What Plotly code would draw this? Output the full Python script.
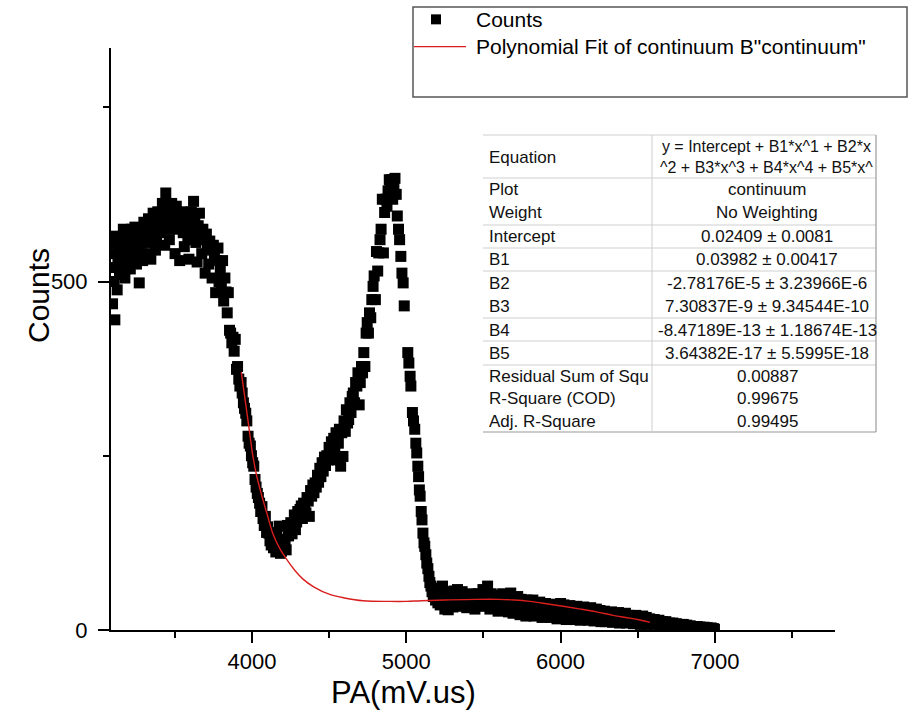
import plotly.graph_objects as go

# ---- measured pulse-area spectrum (PA in mV.us, counts) ----
pa = [
    3092, 3097, 3102, 3107, 3112, 3117, 3122, 3127, 3132, 3137, 3142, 3147, 3152, 3157, 3162, 3167,
    3172, 3177, 3182, 3187, 3192, 3197, 3202, 3207, 3212, 3217, 3222, 3227, 3232, 3237, 3242, 3247,
    3252, 3257, 3262, 3270, 3277, 3285, 3292, 3300, 3307, 3315, 3322, 3330, 3337, 3345, 3352, 3360,
    3367, 3375, 3382, 3390, 3397, 3405, 3412, 3420, 3427, 3435, 3442, 3450, 3457, 3465, 3472, 3480,
    3487, 3495, 3502, 3510, 3517, 3525, 3532, 3540, 3547, 3555, 3562, 3570, 3577, 3585, 3592, 3600,
    3607, 3615, 3622, 3630, 3637, 3645, 3652, 3660, 3667, 3675, 3682, 3690, 3697, 3705, 3712, 3720,
    3727, 3735, 3742, 3750, 3757, 3765, 3772, 3780, 3787, 3795, 3802, 3810, 3817, 3825, 3832, 3840,
    3847, 3855, 3862, 3870, 3877, 3885, 3892, 3900, 3907, 3915, 3922, 3930, 3937, 3945, 3952, 3960,
    3967, 3975, 3982, 3990, 3997, 4005, 4012, 4020, 4027, 4035, 4042, 4050, 4057, 4065, 4072, 4080,
    4087, 4095, 4102, 4110, 4117, 4125, 4132, 4140, 4147, 4155, 4162, 4170, 4177, 4185, 4192, 4200,
    4207, 4215, 4222, 4230, 4237, 4245, 4252, 4260, 4267, 4275, 4282, 4290, 4297, 4305, 4312, 4320,
    4327, 4335, 4342, 4350, 4357, 4365, 4372, 4380, 4387, 4395, 4402, 4410, 4417, 4425, 4432, 4440,
    4447, 4455, 4462, 4470, 4477, 4485, 4492, 4500, 4507, 4515, 4522, 4530, 4537, 4545, 4552, 4560,
    4567, 4575, 4582, 4590, 4597, 4605, 4612, 4620, 4627, 4635, 4642, 4650, 4657, 4665, 4672, 4680,
    4687, 4695, 4702, 4710, 4717, 4725, 4732, 4740, 4747, 4755, 4762, 4770, 4777, 4785, 4792, 4800,
    4807, 4815, 4822, 4830, 4837, 4845, 4852, 4860, 4867, 4875, 4882, 4890, 4897, 4905, 4912, 4920,
    4927, 4935, 4942, 4950, 4957, 4965, 4972, 4980, 4987, 5010, 5017, 5025, 5030, 5040, 5047, 5055,
    5062, 5068, 5075, 5080, 5085, 5090, 5097, 5102, 5108, 5115, 5120, 5127, 5133, 5140, 5147, 5153,
    5160, 5167, 5175, 5182, 5190, 5197, 5205, 5212, 5220, 5227, 5235, 5242, 5250, 5257, 5265, 5272,
    5280, 5287, 5295, 5302, 5310, 5317, 5325, 5332, 5340, 5347, 5355, 5362, 5370, 5377, 5385, 5392,
    5400, 5407, 5415, 5422, 5430, 5437, 5445, 5452, 5460, 5467, 5475, 5482, 5490, 5497, 5505, 5512,
    5520, 5527, 5535, 5542, 5550, 5557, 5565, 5572, 5580, 5587, 5595, 5602, 5610, 5617, 5625, 5632,
    5640, 5647, 5655, 5662, 5670, 5677, 5685, 5692, 5700, 5707, 5715, 5722, 5730, 5737, 5745, 5752,
    5760, 5767, 5775, 5782, 5790, 5797, 5805, 5812, 5820, 5827, 5835, 5842, 5850, 5857, 5865, 5872,
    5880, 5887, 5895, 5902, 5910, 5917, 5925, 5932, 5940, 5947, 5955, 5962, 5970, 5977, 5985, 5992,
    6000, 6007, 6015, 6022, 6030, 6037, 6045, 6052, 6060, 6067, 6075, 6082, 6090, 6097, 6105, 6112,
    6120, 6127, 6135, 6142, 6150, 6157, 6165, 6172, 6180, 6187, 6195, 6202, 6210, 6217, 6225, 6232,
    6240, 6247, 6255, 6262, 6270, 6277, 6285, 6292, 6300, 6307, 6315, 6322, 6330, 6337, 6345, 6352,
    6360, 6367, 6375, 6382, 6390, 6397, 6405, 6412, 6420, 6427, 6435, 6442, 6450, 6457, 6465, 6472,
    6480, 6487, 6495, 6502, 6510, 6517, 6525, 6532, 6540, 6547, 6555, 6562, 6570, 6577, 6585, 6592,
    6600, 6607, 6615, 6622, 6630, 6637, 6645, 6652, 6660, 6667, 6675, 6682, 6690, 6697, 6705, 6712,
    6720, 6727, 6735, 6742, 6750, 6757, 6765, 6772, 6780, 6787, 6795, 6802, 6810, 6817, 6825, 6832,
    6840, 6847, 6855, 6862, 6870, 6877, 6885, 6892, 6900, 6907, 6915, 6922, 6930, 6937, 6945, 6952,
    6960, 6967, 6975, 6982, 6990, 6997,
]
counts = [
    520, 468, 555, 500, 445, 540, 565, 488, 530, 548, 510, 556, 562, 520, 540, 575,
    536, 505, 550, 560, 528, 545, 570, 540, 518, 556, 575, 548, 532, 565, 578, 552,
    525, 560, 540, 498, 572, 555, 530, 585, 560, 540, 575, 590, 556, 532, 565, 598,
    580, 545, 560, 600, 585, 570, 590, 612, 575, 552, 627, 600, 583, 560, 598, 612,
    590, 575, 540, 608, 595, 580, 530, 590, 600, 570, 550, 593, 585, 560, 532, 582,
    600, 570, 615, 590, 556, 528, 580, 598, 565, 540, 575, 560, 512, 568, 550, 525,
    558, 545, 505, 552, 540, 484, 530, 548, 500, 515, 492, 530, 472, 505, 485, 455,
    484, 430, 426, 412, 420, 400, 417, 374, 378, 360, 350, 355, 340, 326, 318, 311,
    300, 278, 268, 264, 250, 240, 235, 216, 205, 196, 190, 182, 170, 177, 160, 150,
    163, 140, 148, 139, 128, 122, 140, 118, 125, 112, 135, 115, 149, 110, 113, 130,
    118, 125, 115, 150, 135, 145, 154, 138, 150, 165, 144, 155, 170, 160, 173, 178,
    160, 182, 176, 168, 190, 185, 163, 200, 192, 208, 197, 211, 205, 222, 212, 232,
    220, 240, 228, 248, 236, 250, 244, 262, 249, 270, 258, 275, 262, 283, 244, 268,
    288, 235, 283, 249, 300, 285, 316, 297, 302, 326, 312, 335, 340, 326, 355, 350,
    369, 323, 355, 378, 369, 398, 378, 426, 441, 426, 455, 448, 474, 493, 508, 474,
    543, 515, 541, 560, 575, 618, 541, 599, 618, 608, 630, 646, 632, 646, 618, 640,
    648, 625, 594, 575, 560, 536, 512, 498, 465, 398, 383, 364, 350, 312, 300, 288,
    268, 254, 235, 220, 201, 192, 170, 158, 139, 125, 120, 108, 96, 88, 77, 68,
    63, 55, 48, 58, 43, 52, 39, 60, 36, 55, 63, 40, 30, 55, 45, 29,
    53, 38, 50, 33, 56, 42, 36, 58, 34, 48, 40, 55, 38, 45, 48, 32,
    50, 42, 35, 52, 40, 46, 30, 48, 38, 52, 35, 44, 40, 58, 34, 48,
    40, 63, 44, 30, 52, 38, 47, 32, 50, 40, 27, 45, 48, 36, 52, 30,
    44, 38, 48, 26, 42, 53, 35, 24, 46, 38, 30, 48, 40, 22, 44, 34,
    40, 28, 20, 43, 36, 24, 40, 30, 43, 20, 38, 26, 35, 22, 40, 30,
    18, 36, 28, 38, 20, 33, 25, 37, 18, 30, 36, 22, 28, 16, 34, 24,
    38, 18, 30, 36, 22, 15, 33, 26, 35, 18, 28, 32, 15, 25, 34, 20,
    28, 14, 30, 22, 33, 16, 26, 30, 14, 24, 32, 18, 28, 13, 26, 30,
    16, 22, 28, 12, 24, 18, 27, 12, 22, 25, 14, 20, 26, 11, 18, 24,
    12, 20, 25, 10, 18, 22, 12, 16, 24, 10, 18, 21, 11, 14, 20, 9,
    16, 21, 10, 15, 19, 8, 14, 20, 9, 13, 18, 8, 12, 16, 9, 14,
    11, 15, 8, 13, 10, 14, 7, 11, 12, 7, 10, 12, 6, 9, 10, 6,
    8, 10, 5, 8, 9, 5, 7, 8, 4, 6, 8, 4, 6, 7, 3, 5,
    6, 3, 5, 5, 2, 4, 5, 2, 4, 4, 2, 3, 4, 1, 3, 3,
    1, 2, 3, 1, 2, 1,
]

# ---- fitted continuum curve ----
fit_pa = [3931, 3950, 3970, 3990, 4006, 4030, 4061, 4100, 4136, 4180, 4223, 4280, 4331, 4400,
          4504, 4600, 4720, 4893, 5000, 5100, 5250, 5450, 5600, 5700, 5800, 5900, 6017, 6130,
          6233, 6340, 6449, 6520, 6579]
fit_counts = [370, 340, 308, 275, 250, 222, 195, 165, 138, 117, 102, 85, 73, 62,
              51, 46, 42, 41, 41, 42, 43, 44, 44, 43, 41, 38, 34, 30,
              26, 21, 17, 14, 11]

# ---- fit report ----
report_rows = ["Plot", "Weight", "Intercept", "B1", "B2", "B3", "B4", "B5",
               "Residual Sum of Squ", "R-Square (COD)", "Adj. R-Square"]
report_vals = ["continuum", "No Weighting", "0.02409 \u00b1 0.0081", "0.03982 \u00b1 0.00417",
               "-2.78176E-5 \u00b1 3.23966E-6", "7.30837E-9 \u00b1 9.34544E-10",
               "-8.47189E-13 \u00b1 1.18674E-13", "3.64382E-17 \u00b1 5.5995E-18",
               "0.00887", "0.99675", "0.99495"]
equation_lines = ["y = Intercept + B1*x^1 + B2*x", "^2 + B3*x^3 + B4*x^4 + B5*x^"]
legend_names = ["Counts", 'Polynomial Fit of continuum B"continuum"']

x_range = [3087, 7778]
y_range = [0, 835]

FW, FH = 910, 724
ML, MR, MT, MB = 111, 75, 48, 94
PW, PH = FW - ML - MR, FH - MT - MB
FONT = "Liberation Sans, Arial, sans-serif"
RED = "#d91e1e"


def fx(px):
    return (px - ML) / PW


def fy(py):
    return (FH - MB - py) / PH


fig = go.Figure()
fig.add_trace(go.Scatter(
    x=pa, y=counts, mode="markers", name=legend_names[0],
    marker=dict(symbol="square", size=11, color="black", line=dict(width=0)),
))
fig.add_trace(go.Scatter(
    x=fit_pa, y=fit_counts, mode="lines", name=legend_names[1],
    line=dict(color=RED, width=1.4, shape="spline"),
))

shapes = []
annotations = []

# legend box with its two keys
LFS = 21
row1 = 33 - LFS * 1.3 / 2
row2 = 33 + LFS * 1.3 / 2
shapes.append(dict(type="rect", xref="paper", yref="paper",
                   x0=fx(413), x1=fx(907), y0=fy(97), y1=fy(7),
                   line=dict(color="#555555", width=1.5), fillcolor="white", layer="above"))
shapes.append(dict(type="rect", xref="paper", yref="paper",
                   x0=fx(431), x1=fx(441), y0=fy(row1 + 5), y1=fy(row1 - 5),
                   line=dict(width=0), fillcolor="black", layer="above"))
shapes.append(dict(type="line", xref="paper", yref="paper",
                   x0=fx(414), x1=fx(466), y0=fy(row2), y1=fy(row2),
                   line=dict(color=RED, width=1.4), layer="above"))
annotations.append(dict(xref="paper", yref="paper", x=fx(474), y=fy(33),
                        text="<br>".join(legend_names), align="left",
                        showarrow=False, xanchor="left", yanchor="middle",
                        font=dict(family=FONT, size=LFS, color="black")))

# fit report table
TL, TR, TC = 483, 876, 652
light = "#cfcfcf"
for yl in [135, 178, 225, 248, 271, 318, 341, 365]:
    shapes.append(dict(type="line", xref="paper", yref="paper", x0=fx(TL), x1=fx(TR),
                       y0=fy(yl), y1=fy(yl), line=dict(color=light, width=1)))
shapes.append(dict(type="line", xref="paper", yref="paper", x0=fx(TL), x1=fx(TR),
                   y0=fy(432), y1=fy(432), line=dict(color="#9a9a9a", width=1.2)))
shapes.append(dict(type="line", xref="paper", yref="paper", x0=fx(TC), x1=fx(TC),
                   y0=fy(135), y1=fy(432), line=dict(color=light, width=1)))
shapes.append(dict(type="line", xref="paper", yref="paper", x0=fx(TR), x1=fx(TR),
                   y0=fy(135), y1=fy(432), line=dict(color="#9a9a9a", width=1.2)))

tfont = dict(family=FONT, size=17, color="#111111")
annotations.append(dict(xref="paper", yref="paper", x=fx(487), y=fy(157), text="Equation",
                        showarrow=False, xanchor="left", yanchor="middle", font=tfont))
annotations.append(dict(xref="paper", yref="paper", x=fx(766), y=fy(156.5),
                        text="<br>".join(equation_lines),
                        showarrow=False, xanchor="center", yanchor="middle",
                        font=dict(family=FONT, size=16, color="#111111")))
row_y = [189, 212.5, 236.5, 259, 283, 306.5, 330, 353, 376, 398.5, 421.5]
for yy, lab, val in zip(row_y, report_rows, report_vals):
    annotations.append(dict(xref="paper", yref="paper", x=fx(487), y=fy(yy), text=lab,
                            showarrow=False, xanchor="left", yanchor="middle", font=tfont))
    annotations.append(dict(xref="paper", yref="paper", x=fx(767), y=fy(yy), text=val,
                            showarrow=False, xanchor="center", yanchor="middle", font=tfont))

# axis titles
annotations.append(dict(xref="paper", yref="paper", x=fx(403), y=fy(692), text="PA(mV.us)",
                        showarrow=False, xanchor="center", yanchor="middle",
                        font=dict(family=FONT, size=31, color="black")))
annotations.append(dict(xref="paper", yref="paper", x=fx(38), y=fy(296), text="Counts",
                        showarrow=False, xanchor="center", yanchor="middle", textangle=-90,
                        font=dict(family=FONT, size=30, color="black")))

axis_common = dict(
    showline=True, linecolor="black", linewidth=2, mirror=False,
    showgrid=False, zeroline=False,
    ticks="outside", ticklen=11, tickwidth=2, tickcolor="black",
    tickfont=dict(family=FONT, size=22, color="black"),
)
fig.update_xaxes(range=x_range, dtick=1000, tick0=0,
                 minor=dict(dtick=500, tick0=0, ticks="outside", ticklen=6,
                            tickwidth=2, tickcolor="black"),
                 **axis_common)
fig.update_yaxes(range=y_range, dtick=500, tick0=0, ticklabelstandoff=6,
                 minor=dict(dtick=250, tick0=0, ticks="outside", ticklen=6,
                            tickwidth=2, tickcolor="black"),
                 **axis_common)

fig.update_layout(
    width=FW, height=FH, autosize=False,
    margin=dict(l=ML, r=MR, t=MT, b=MB, pad=0),
    paper_bgcolor="white", plot_bgcolor="white",
    showlegend=False,
    shapes=shapes, annotations=annotations,
)

fig.write_html("out.html")
